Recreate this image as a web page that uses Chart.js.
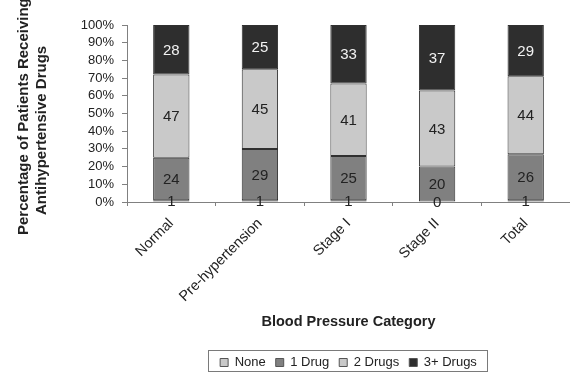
<!DOCTYPE html>
<html>
<head>
<meta charset="utf-8">
<script src="https://cdn.jsdelivr.net/npm/chart.js@4/dist/chart.umd.min.js"></script>
<style>
  html, body { margin: 0; padding: 0; background: #fff; }
  #wrap { width: 570px; height: 372px; }
</style>
</head>
<body>
<div id="wrap"><canvas id="c" width="570" height="372"></canvas></div>
<script>
// Blood pressure categories and share of patients (%) by number of antihypertensive drugs
const categories = ['Normal', 'Pre-hypertension', 'Stage I', 'Stage II', 'Total'];
const noneDrug   = [1, 1, 1, 0, 1];
const oneDrug    = [24, 29, 25, 20, 26];
const twoDrugs   = [47, 45, 41, 43, 44];
const threePlus  = [28, 25, 33, 37, 29];
const yTicks     = [0, 10, 20, 30, 40, 50, 60, 70, 80, 90, 100];
const yTitleLines = ['Percentage of Patients Receiving', 'Antihypertensive Drugs'];

const FONT = "'Liberation Sans', Arial, sans-serif";
const INK = '#222222';
const EDGE = '#303030';

// Writes each segment's value at the middle of its bar piece
const segmentLabels = {
  id: 'segmentLabels',
  afterDatasetsDraw(chart) {
    const ctx = chart.ctx;
    ctx.save();
    ctx.font = '15px ' + FONT;
    ctx.textAlign = 'center';
    ctx.textBaseline = 'middle';
    chart.data.datasets.forEach((ds, di) => {
      const meta = chart.getDatasetMeta(di);
      meta.data.forEach((bar, i) => {
        const p = bar.getProps(['x', 'y', 'base'], true);
        ctx.fillStyle = ds.labelColor;
        ctx.fillText(String(ds.data[i]), p.x, (p.y + p.base) / 2 + 1);
      });
    });
    ctx.restore();
  }
};

// Two-line vertical title for the value axis, read from the bottom up
const yAxisTitle = {
  id: 'yAxisTitle',
  afterDraw(chart) {
    const ctx = chart.ctx;
    const bottom = chart.chartArea.bottom;
    ctx.save();
    ctx.font = 'bold 15px ' + FONT;
    ctx.fillStyle = INK;
    ctx.textAlign = 'left';
    ctx.textBaseline = 'middle';
    const spots = [{ x: 24, y: bottom + 33 }, { x: 42, y: bottom + 13 }];
    yTitleLines.forEach((line, i) => {
      ctx.save();
      ctx.translate(spots[i].x, spots[i].y);
      ctx.rotate(-Math.PI / 2);
      ctx.fillText(line, 0, 0);
      ctx.restore();
    });
    ctx.restore();
  }
};

// Frame around the legend entries
const legendFrame = {
  id: 'legendFrame',
  afterDraw(chart) {
    const lg = chart.legend;
    if (!lg || !lg.legendHitBoxes.length) return;
    const boxes = lg.legendHitBoxes;
    const left = Math.min(...boxes.map(b => b.left)) - 12;
    const right = Math.max(...boxes.map(b => b.left + b.width)) + 10;
    const ctx = chart.ctx;
    ctx.save();
    ctx.strokeStyle = '#7a7a7a';
    ctx.lineWidth = 1;
    ctx.strokeRect(Math.round(left) + 0.5, 350.5, Math.round(right - left), 21);
    ctx.restore();
  }
};

const ds = (label, data, fill, labelColor) => ({
  label, data,
  backgroundColor: fill,
  borderColor: EDGE,
  borderWidth: 1,
  borderSkipped: false,
  labelColor,
  barPercentage: 0.41,
  categoryPercentage: 1.0
});

new Chart(document.getElementById('c'), {
  type: 'bar',
  data: {
    labels: categories,
    datasets: [
      ds('None', noneDrug, '#c8c8c8', INK),
      ds('1 Drug', oneDrug, '#808080', INK),
      ds('2 Drugs', twoDrugs, '#c9c9c9', INK),
      ds('3+ Drugs', threePlus, '#2e2e2e', '#f2f2f2')
    ]
  },
  options: {
    responsive: false,
    animation: false,
    layout: { padding: { top: 25, right: 0, left: 0, bottom: -7 } },
    plugins: {
      tooltip: { enabled: false },
      legend: {
        position: 'bottom',
        fullSize: false,
        labels: {
          font: { family: FONT, size: 13 },
          color: INK,
          boxWidth: 8,
          boxHeight: 8,
          padding: 10,
          generateLabels(chart) {
            return chart.data.datasets.map((d, i) => ({
              text: d.label,
              fillStyle: d.backgroundColor,
              strokeStyle: '#555555',
              lineWidth: 1,
              fontColor: INK,
              datasetIndex: i,
              hidden: false
            }));
          }
        }
      }
    },
    scales: {
      x: {
        stacked: true,
        afterFit(scale) { scale.height = 144; },
        grid: {
          display: true,
          drawOnChartArea: false,
          offset: true,
          tickLength: 4,
          color: '#808080'
        },
        border: { color: '#808080', width: 1 },
        ticks: {
          minRotation: 45,
          maxRotation: 45,
          padding: 9,
          color: INK,
          font: { family: FONT, size: 14.5 }
        },
        title: {
          display: true,
          text: 'Blood Pressure Category',
          color: INK,
          font: { family: FONT, size: 14.5, weight: 'bold' },
          padding: { top: 0, bottom: 15 }
        }
      },
      y: {
        stacked: true,
        min: 0,
        max: 100,
        afterFit(scale) { scale.width = 127; },
        afterBuildTicks(scale) { scale.ticks = yTicks.map(v => ({ value: v })); },
        grid: {
          display: true,
          drawOnChartArea: false,
          tickLength: 5,
          color: '#808080'
        },
        border: { color: '#808080', width: 1 },
        ticks: {
          autoSkip: false,
          padding: 8,
          color: INK,
          font: { family: FONT, size: 13 },
          callback: v => v + '%'
        },
        title: { display: false }
      }
    }
  },
  plugins: [segmentLabels, yAxisTitle, legendFrame]
});
</script>
</body>
</html>
